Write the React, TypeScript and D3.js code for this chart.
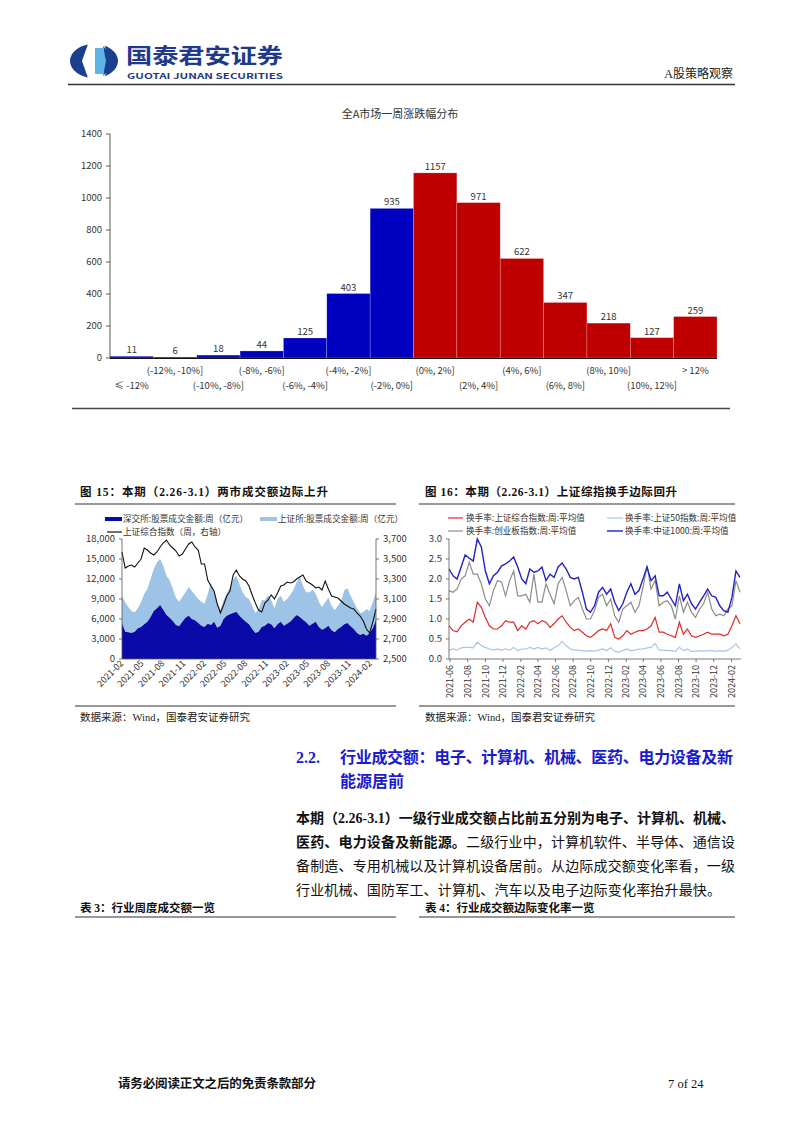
import React from "react";
import * as d3 from "d3";

// ---------- Top chart data ----------
const distCategories = [
  "≤ -12%", "(-12%, -10%]", "(-10%, -8%]", "(-8%, -6%]", "(-6%, -4%]", "(-4%, -2%]", "(-2%, 0%]",
  "(0%, 2%]", "(2%, 4%]", "(4%, 6%]", "(6%, 8%]", "(8%, 10%]", "(10%, 12%]", "> 12%",
];
const distCounts = [11, 6, 18, 44, 125, 403, 935, 1157, 971, 622, 347, 218, 127, 259];
const distTicks = [0, 200, 400, 600, 800, 1000, 1200, 1400];

// ---------- Fig 15 data (bi-weekly, 2021-02-05 .. 2024-03-01) ----------
const f15Start = "2021-02-05";
const szTurnover = [
  5400, 4100, 4000, 3900, 4100, 4600, 4800, 5200, 5600, 6300, 7200, 7600, 8100, 7400, 6600, 6200, 5700,
  5100, 4900, 5600, 6200, 6500, 6000, 5800, 5400, 5000, 4800, 5300, 5100, 5600, 4700, 5000, 6000, 6500,
  6700, 6900, 7100, 6500, 6000, 5600, 5200, 4500, 3900, 4100, 4800, 5000, 5400, 5200, 4600, 5200, 5600,
  5000, 5300, 5600, 6100, 6600, 6300, 5900, 5500, 5000, 5300, 5600, 4800, 4400, 4600, 5000, 4300, 4000,
  4500, 4800, 5200, 5400, 4900, 4500, 3900, 3600, 3800, 3500, 3900, 4600, 5800,
];
const shTurnover = [
  4100, 4400, 3800, 3300, 2900, 3000, 3700, 4600, 4900, 5700, 6300, 6900, 6900, 6600, 5900, 5600, 4800,
  4100, 3700, 3700, 3800, 4300, 4200, 3800, 3600, 3600, 3500, 4400, 6400, 4600, 3700, 2400, 2800, 3300,
  4100, 5100, 5400, 4700, 4000, 3700, 3800, 3500, 3000, 3300, 4000, 3800, 4200, 3600, 3000, 3800, 3900,
  3600, 3700, 4000, 4300, 4900, 6000, 5100, 4500, 5000, 5100, 4200, 3800, 3400, 3900, 4200, 3700, 3300,
  3500, 3900, 5100, 5200, 4600, 4000, 3700, 3300, 3200, 4000, 3300, 3900, 4200,
];
const shIndex = [
  3570, 3410, 3430, 3440, 3420, 3460, 3500, 3610, 3590, 3560, 3540, 3570, 3620, 3660, 3690, 3640, 3610,
  3580, 3530, 3550, 3600, 3650, 3670, 3620, 3590, 3450, 3450, 3290, 3230, 3180, 3050, 2960, 3040, 3130,
  3180, 3340, 3390, 3330, 3300, 3280, 3230, 3140, 3060, 2990, 2970, 3060, 3090, 3140, 3100, 3160, 3230,
  3240, 3270, 3260, 3270, 3300, 3320, 3340, 3280, 3260, 3240, 3210, 3220, 3190, 3280, 3200, 3130, 3120,
  3110, 3080, 3050, 3030, 3010, 3000, 2960, 2930, 2880, 2800, 2760, 2870, 3000,
];
const f15LeftTicks = [0, 3000, 6000, 9000, 12000, 15000, 18000];
const f15RightTicks = [2500, 2700, 2900, 3100, 3300, 3500, 3700];
const f15XTicks = [
  "2021-02", "2021-05", "2021-08", "2021-11", "2022-02", "2022-05", "2022-08", "2022-11",
  "2023-02", "2023-05", "2023-08", "2023-11", "2024-02",
];

// ---------- Fig 16 data (bi-weekly, 2021-05-28 .. 2024-03-01) ----------
const f16Start = "2021-05-28";
const turnSH = [
  0.83, 0.71, 0.68, 0.83, 0.92, 1.0, 0.92, 1.42, 1.29, 1.04, 0.83, 0.75, 0.75, 0.83, 0.96, 0.92, 0.92,
  0.71, 0.83, 0.75, 0.92, 0.96, 0.88, 0.96, 0.92, 0.79, 0.88, 1.0, 1.08, 0.92, 0.79, 0.71, 0.75, 0.67,
  0.58, 0.54, 0.62, 0.71, 0.75, 0.71, 0.88, 0.54, 0.5, 0.58, 0.71, 0.62, 0.67, 0.71, 0.71, 0.75, 0.83,
  1.04, 0.67, 0.67, 0.62, 0.58, 0.54, 0.92, 0.62, 0.75, 0.58, 0.54, 0.58, 0.62, 0.67, 0.62, 0.62, 0.62,
  0.58, 0.62, 0.83, 1.08, 0.88,
];
const turnSZ50 = [
  0.22, 0.25, 0.22, 0.28, 0.29, 0.29, 0.28, 0.42, 0.33, 0.29, 0.25, 0.22, 0.25, 0.22, 0.25, 0.22, 0.29,
  0.21, 0.25, 0.25, 0.29, 0.25, 0.29, 0.25, 0.28, 0.22, 0.28, 0.33, 0.44, 0.33, 0.25, 0.22, 0.22, 0.21,
  0.19, 0.21, 0.19, 0.22, 0.25, 0.21, 0.28, 0.19, 0.17, 0.21, 0.25, 0.21, 0.22, 0.25, 0.25, 0.28, 0.29,
  0.39, 0.22, 0.22, 0.21, 0.21, 0.19, 0.29, 0.21, 0.25, 0.19, 0.19, 0.21, 0.19, 0.21, 0.21, 0.19, 0.21,
  0.19, 0.22, 0.29, 0.38, 0.25,
];
const turnChiNext = [
  1.71, 1.67, 1.75, 2.0, 2.08, 2.42, 2.12, 2.12, 1.88, 1.5, 1.33, 1.71, 1.96, 1.92, 1.58, 1.96, 2.2,
  1.58, 1.58, 1.62, 1.42, 2.12, 1.42, 1.42, 1.88, 1.62, 1.38, 1.88, 2.04, 1.71, 1.33, 1.46, 1.54, 1.25,
  1.0, 1.0, 1.21, 1.54, 1.62, 1.33, 1.5, 1.08, 0.92, 1.25, 1.33, 1.42, 1.17, 1.33, 1.79, 2.33, 1.75,
  1.96, 1.33, 1.42, 1.46, 1.33, 1.0, 1.58, 1.17, 1.42, 1.17, 1.04, 1.25, 1.38, 1.67, 1.25, 1.08, 1.12,
  1.08, 1.25, 1.33, 1.96, 1.67,
];
const turnCSI1000 = [
  2.25, 2.08, 2.0, 2.3, 2.6, 2.52, 2.45, 3.0, 2.8, 2.2, 1.88, 2.08, 2.17, 2.33, 2.38, 2.45, 2.55, 2.3,
  2.0, 1.88, 2.25, 2.17, 2.2, 2.3, 1.96, 2.12, 2.04, 2.3, 2.4, 2.25, 2.04, 2.0, 2.04, 1.67, 1.25, 1.17,
  1.33, 1.67, 1.79, 1.62, 1.75, 1.42, 1.21, 1.38, 1.67, 1.88, 1.62, 1.71, 2.0, 2.3, 1.96, 2.08, 1.58,
  1.58, 1.67, 1.5, 1.33, 1.88, 1.46, 1.62, 1.38, 1.25, 1.42, 1.58, 1.75, 1.58, 1.54, 1.33, 1.21, 1.17,
  1.54, 2.2, 2.04,
];
const f16YTicks = [0, 0.5, 1.0, 1.5, 2.0, 2.5, 3.0];
const f16XTicks = [
  "2021-06", "2021-08", "2021-10", "2021-12", "2022-02", "2022-04", "2022-06", "2022-08", "2022-10",
  "2022-12", "2023-02", "2023-04", "2023-06", "2023-08", "2023-10", "2023-12", "2024-02",
];

// ---------- styles ----------
const SANS = "'Noto Sans CJK SC', 'Noto Sans', sans-serif";
const SERIF = "'Liberation Serif', 'Noto Sans CJK SC', serif";
const BLUE = "#0000c0";
const RED = "#c00000";
const DARKBLUE_AREA = "#0a0aa8";
const LIGHTBLUE_AREA = "#9dc3e6";

const parse = d3.timeParse("%Y-%m-%d");
const parseMonth = d3.timeParse("%Y-%m");
const datesFrom = (start: string, n: number) =>
  d3.range(n).map((i) => d3.timeDay.offset(parse(start) as Date, 14 * i));

function TopChart() {
  const x = d3.scaleBand<string>().domain(distCategories).range([110, 717]).padding(0);
  const y = d3.scaleLinear().domain([0, 1400]).range([358, 134]);
  return (
    <g fontFamily={SANS}>
      <text x={400} y={118} textAnchor="middle" fontSize={11} fill="#333">
        全A市场一周涨跌幅分布
      </text>
      {distCategories.map((c, i) => (
        <rect
          key={c}
          x={x(c)}
          y={y(distCounts[i])}
          width={x.bandwidth()}
          height={y(0) - y(distCounts[i])}
          fill={i < 7 ? BLUE : RED}
          stroke="#ffffff"
          strokeOpacity={0.35}
          strokeWidth={0.6}
        />
      ))}
      {distCategories.map((c, i) => (
        <text
          key={"v" + c}
          x={(x(c) as number) + x.bandwidth() / 2}
          y={y(distCounts[i]) - 3}
          textAnchor="middle"
          fontSize={9.5}
          fill="#333"
        >
          {distCounts[i]}
        </text>
      ))}
      <line x1={110} x2={110} y1={134} y2={358} stroke="#333" strokeWidth={0.8} />
      {distTicks.map((t) => (
        <g key={t}>
          <line x1={106} x2={110} y1={y(t)} y2={y(t)} stroke="#333" strokeWidth={0.8} />
          <text x={102} y={y(t)} dy="0.35em" textAnchor="end" fontSize={9.5} fill="#333">
            {t}
          </text>
        </g>
      ))}
      <line x1={110} x2={717} y1={358.5} y2={358.5} stroke="#111" strokeWidth={1.2} />
      {distCategories.map((c, i) => (
        <text
          key={"l" + c}
          x={(x(c) as number) + x.bandwidth() / 2}
          y={i % 2 === 1 ? 374 : 389}
          textAnchor="middle"
          fontSize={9.5}
          fill="#333"
        >
          {c}
        </text>
      ))}
    </g>
  );
}

function Fig15() {
  const dates = datesFrom(f15Start, szTurnover.length);
  const x = d3.scaleTime().domain([dates[0], dates[dates.length - 1]]).range([122, 376]);
  const yL = d3.scaleLinear().domain([0, 18000]).range([659, 539]);
  const yR = d3.scaleLinear().domain([2500, 3700]).range([659, 539]);
  const idx = d3.range(dates.length);
  const lightArea = d3
    .area<number>()
    .x((i) => x(dates[i]))
    .y0((i) => yL(szTurnover[i]))
    .y1((i) => yL(szTurnover[i] + shTurnover[i]));
  const darkArea = d3
    .area<number>()
    .x((i) => x(dates[i]))
    .y0(yL(0))
    .y1((i) => yL(szTurnover[i]));
  const idxLine = d3
    .line<number>()
    .x((i) => x(dates[i]))
    .y((i) => yR(shIndex[i]));
  const fmt = d3.format(",");
  return (
    <g fontFamily={SANS}>
      {/* legend */}
      <rect x={105} y={517} width={17} height={4} fill={DARKBLUE_AREA} />
      <text x={123} y={519} dy="0.35em" fontSize={8.6} fill="#333">深交所:股票成交金额:周（亿元）</text>
      <rect x={260} y={517} width={17} height={4} fill={LIGHTBLUE_AREA} />
      <text x={278} y={519} dy="0.35em" fontSize={8.6} fill="#333">上证所:股票成交金额:周（亿元）</text>
      <line x1={107} x2={122} y1={532} y2={532} stroke="#111" strokeWidth={1.2} />
      <text x={123} y={532} dy="0.35em" fontSize={8.6} fill="#333">上证综合指数（周，右轴）</text>

      <path d={lightArea(idx) as string} fill={LIGHTBLUE_AREA} />
      <path d={darkArea(idx) as string} fill={DARKBLUE_AREA} />
      <path d={idxLine(idx) as string} fill="none" stroke="#111" strokeWidth={1.1} />

      <line x1={122} x2={122} y1={539} y2={659} stroke="#555" strokeWidth={0.8} />
      <line x1={376} x2={376} y1={539} y2={659} stroke="#555" strokeWidth={0.8} />
      <line x1={122} x2={376} y1={659} y2={659} stroke="#555" strokeWidth={0.8} />
      {f15LeftTicks.map((t) => (
        <g key={t}>
          <line x1={119} x2={122} y1={yL(t)} y2={yL(t)} stroke="#555" strokeWidth={0.8} />
          <text x={115} y={yL(t)} dy="0.35em" textAnchor="end" fontSize={9.5} fill="#333">
            {fmt(t)}
          </text>
        </g>
      ))}
      {f15RightTicks.map((t) => (
        <g key={t}>
          <line x1={376} x2={379} y1={yR(t)} y2={yR(t)} stroke="#555" strokeWidth={0.8} />
          <text x={383} y={yR(t)} dy="0.35em" textAnchor="start" fontSize={9.5} fill="#333">
            {fmt(t)}
          </text>
        </g>
      ))}
      {f15XTicks.map((m) => {
        const xx = x(parseMonth(m) as Date);
        return (
          <text
            key={m}
            transform={`translate(${xx + 3},${664}) rotate(-45)`}
            textAnchor="end"
            fontSize={9}
            fill="#333"
          >
            {m}
          </text>
        );
      })}
    </g>
  );
}

function Fig16() {
  const dates = datesFrom(f16Start, turnSH.length);
  const x = d3.scaleTime().domain([dates[0], dates[dates.length - 1]]).range([449, 740]);
  const y = d3.scaleLinear().domain([0, 3]).range([659, 539]);
  const idx = d3.range(dates.length);
  const mk = (arr: number[]) =>
    d3
      .line<number>()
      .x((i) => x(dates[i]))
      .y((i) => y(arr[i]))(idx) as string;
  const series = [
    { vals: turnChiNext, color: "#8c8c8c", w: 1.2 },
    { vals: turnSZ50, color: "#a9c4e4", w: 1.2 },
    { vals: turnSH, color: "#dd2a2a", w: 1.2 },
    { vals: turnCSI1000, color: "#2222c8", w: 1.4 },
  ];
  return (
    <g fontFamily={SANS}>
      {/* legend */}
      <line x1={448} x2={463} y1={518} y2={518} stroke="#dd2a2a" strokeWidth={1.2} />
      <text x={466} y={518} dy="0.35em" fontSize={8.6} fill="#333">换手率:上证综合指数:周:平均值</text>
      <line x1={607} x2={623} y1={518} y2={518} stroke="#a9c4e4" strokeWidth={1.2} />
      <text x={625} y={518} dy="0.35em" fontSize={8.6} fill="#333">换手率:上证50指数:周:平均值</text>
      <line x1={448} x2={463} y1={531} y2={531} stroke="#8c8c8c" strokeWidth={1.2} />
      <text x={466} y={531} dy="0.35em" fontSize={8.6} fill="#333">换手率:创业板指数:周:平均值</text>
      <line x1={607} x2={623} y1={531} y2={531} stroke="#2222c8" strokeWidth={1.4} />
      <text x={625} y={531} dy="0.35em" fontSize={8.6} fill="#333">换手率:中证1000:周:平均值</text>

      {series.map((s, i) => (
        <path key={i} d={mk(s.vals)} fill="none" stroke={s.color} strokeWidth={s.w} />
      ))}

      <line x1={449} x2={449} y1={539} y2={659} stroke="#555" strokeWidth={0.8} />
      <line x1={449} x2={741} y1={659} y2={659} stroke="#555" strokeWidth={0.8} />
      {f16YTicks.map((t) => (
        <g key={t}>
          <line x1={446} x2={449} y1={y(t)} y2={y(t)} stroke="#555" strokeWidth={0.8} />
          <text x={442} y={y(t)} dy="0.35em" textAnchor="end" fontSize={9.5} fill="#333">
            {d3.format(".1f")(t)}
          </text>
        </g>
      ))}
      {f16XTicks.map((m) => {
        const xx = x(parseMonth(m) as Date);
        return (
          <g key={m}>
            <line x1={xx} x2={xx} y1={659} y2={662} stroke="#555" strokeWidth={0.8} />
            <text
              transform={`translate(${xx},${665}) rotate(-90)`}
              textAnchor="end"
              dy="0.35em"
              fontSize={9}
              fill="#333"
            >
              {m}
            </text>
          </g>
        );
      })}
    </g>
  );
}

function Header() {
  return (
    <g>
      <ellipse cx={94} cy={61} rx={24} ry={17} fill="#1b3f8f" />
      <polygon points="88,44 104,44 110,61 104,78 88,78 82,61" fill="#ffffff" />
      <polygon points="95,48 103,48 108,61 103,74 95,74" fill="#5db3e3" />
      <path d="M103,46 Q119,61 103,76 L106,61 Z" fill="#1b3f8f" />
      <text x={126} y={63} fontFamily={SANS} fontWeight="bold" fontSize={21} fill="#1f3a8a" textLength={157} lengthAdjust="spacingAndGlyphs">
        国泰君安证券
      </text>
      <text x={127} y={79} fontFamily={SANS} fontWeight="bold" fontSize={8} fill="#1f3a8a" textLength={156} lengthAdjust="spacingAndGlyphs">
        GUOTAI JUNAN SECURITIES
      </text>
      <text x={733} y={78} textAnchor="end" fontFamily={SERIF} fontSize={12} fill="#222">
        A股策略观察
      </text>
      <line x1={68} x2={735} y1={84.5} y2={84.5} stroke="#333" strokeWidth={1.6} />
    </g>
  );
}

function Body() {
  return (
    <g>
      {/* top chart separator */}
      <line x1={72} x2={730} y1={408.5} y2={408.5} stroke="#444" strokeWidth={1.4} />

      {/* figure titles */}
      <text x={80} y={496} fontFamily={SERIF} fontWeight="bold" fontSize={11.5} fill="#111" textLength={248}>
        图 15：本期（2.26-3.1）两市成交额边际上升
      </text>
      <text x={425} y={496} fontFamily={SERIF} fontWeight="bold" fontSize={11.5} fill="#111" textLength={252}>
        图 16：本期（2.26-3.1）上证综指换手边际回升
      </text>
      <line x1={75} x2={396} y1={504} y2={504} stroke="#333" strokeWidth={1.2} />
      <line x1={419} x2={735} y1={504} y2={504} stroke="#333" strokeWidth={1.2} />
      <line x1={75} x2={396} y1={706} y2={706} stroke="#333" strokeWidth={1.2} />
      <line x1={419} x2={735} y1={706} y2={706} stroke="#333" strokeWidth={1.2} />
      <text x={80} y={721} fontFamily={SERIF} fontSize={10.5} fill="#222">数据来源：Wind，国泰君安证券研究</text>
      <text x={425} y={721} fontFamily={SERIF} fontSize={10.5} fill="#222">数据来源：Wind，国泰君安证券研究</text>

      {/* section heading */}
      <text x={296} y={763} fontFamily={SERIF} fontWeight="bold" fontSize={16} fill="#1a1ad0">2.2.</text>
      <text x={340} y={763} fontFamily={SANS} fontWeight="bold" fontSize={16} fill="#1a1ad0" textLength={393}>
        行业成交额：电子、计算机、机械、医药、电力设备及新
      </text>
      <text x={340} y={787} fontFamily={SANS} fontWeight="bold" fontSize={16} fill="#1a1ad0">能源居前</text>

      {/* paragraph */}
      <g fontFamily={SERIF} fontSize={14} fill="#111">
        <text x={296} y={823} fontWeight="bold" textLength={439}>
          本期（2.26-3.1）一级行业成交额占比前五分别为电子、计算机、机械、
        </text>
        <text x={296} y={847} textLength={439}>
          <tspan fontWeight="bold">医药、电力设备及新能源。</tspan>
          <tspan>二级行业中，计算机软件、半导体、通信设</tspan>
        </text>
        <text x={296} y={871} textLength={439}>
          备制造、专用机械以及计算机设备居前。从边际成交额变化率看，一级
        </text>
        <text x={296} y={895} textLength={425}>
          行业机械、国防军工、计算机、汽车以及电子边际变化率抬升最快。
        </text>
      </g>

      {/* table titles */}
      <text x={80} y={912} fontFamily={SERIF} fontWeight="bold" fontSize={11.5} fill="#111">表 3：行业周度成交额一览</text>
      <text x={425} y={912} fontFamily={SERIF} fontWeight="bold" fontSize={11.5} fill="#111">表 4：行业成交额边际变化率一览</text>
      <line x1={75} x2={396} y1={917} y2={917} stroke="#333" strokeWidth={1.2} />
      <line x1={419} x2={735} y1={917} y2={917} stroke="#333" strokeWidth={1.2} />

      {/* footer */}
      <text x={118} y={1088} fontFamily={SERIF} fontWeight="bold" fontSize={12.5} fill="#111" textLength={198}>
        请务必阅读正文之后的免责条款部分
      </text>
      <text x={668} y={1088} fontFamily={SERIF} fontSize={12.5} fill="#111">7 of 24</text>
    </g>
  );
}

export default function App() {
  return (
    <svg
      width={802}
      height={1133}
      viewBox="0 0 802 1133"
      style={{ position: "absolute", left: 0, top: 0, background: "#fff" }}
    >
      <rect width={802} height={1133} fill="#fff" />
      <Header />
      <TopChart />
      <Fig15 />
      <Fig16 />
      <Body />
    </svg>
  );
}
